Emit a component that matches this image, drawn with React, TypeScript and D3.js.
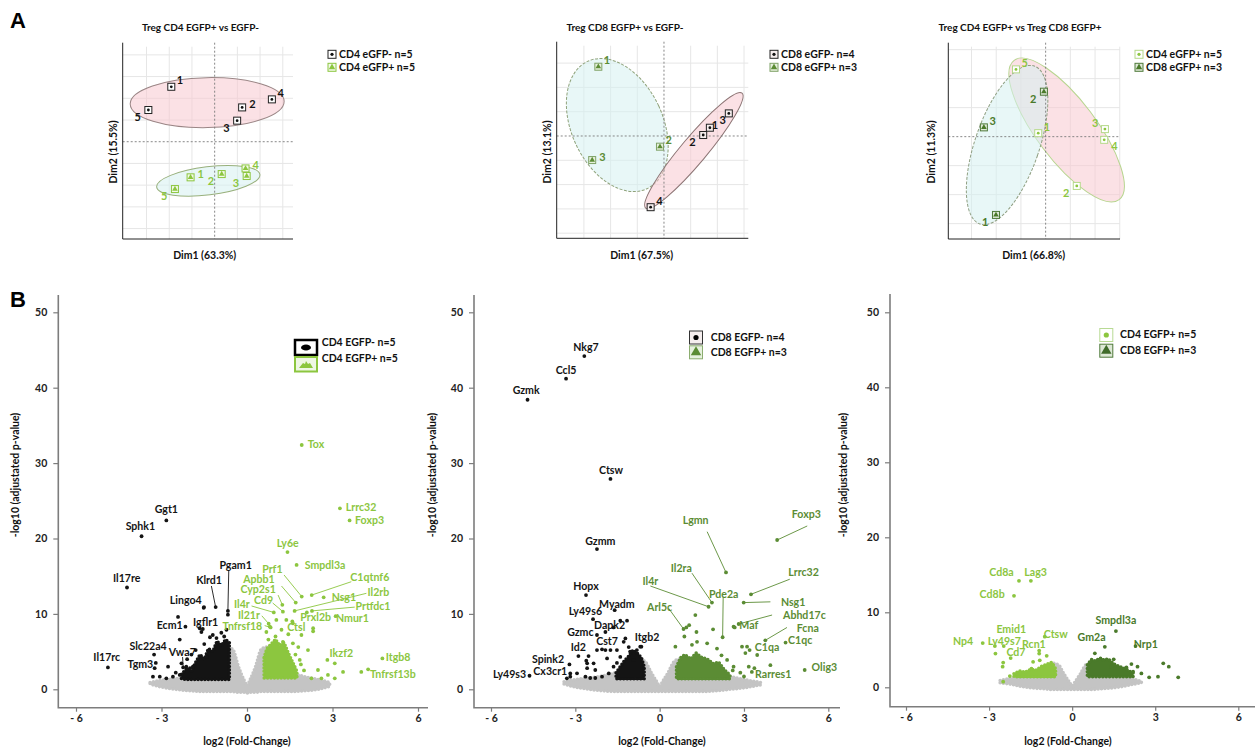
import React, { useEffect, useRef } from 'react';
import * as d3 from 'd3';

const FONT = "Lato, 'Open Sans', 'DejaVu Sans', sans-serif";
const C_BLACK = '#141414';
const C_LIGHT = '#8cc63f';
const C_MID = '#5b8c34';
const C_DARK = '#4a7a2a';
const C_GRAY = '#c4c4c4';
const AXIS = '#7d7d7d';

// ---------- A: PCA scores [sample, Dim1, Dim2] ----------
type Score = [string, number, number];
type Ell = [number, number, number, number, number]; // cx, cy, rx, ry, angle

const pcaCd4Neg: Score[] = [['1', -1.91, 2.53], ['2', 1.21, 1.58], ['3', 0.99, 0.97], ['4', 2.52, 1.95], ['5', -2.92, 1.46]];
const pcaCd4Pos: Score[] = [['1', -1.06, -1.64], ['2', 0.31, -1.49], ['3', 1.41, -1.58], ['4', 1.36, -1.23], ['5', -1.75, -2.18]];
const pcaCd8Neg: Score[] = [['1', 1.72, 0.34], ['2', 1.47, 0.04], ['3', 2.43, 0.93], ['4', -0.5, -2.93]];
const pcaCd8Pos: Score[] = [['1', -2.46, 2.85], ['2', -0.15, -0.44], ['3', -2.69, -0.99]];
const pcaCd4PosB: Score[] = [['1', -0.3, 0.12], ['2', 1.26, -1.7], ['3', 2.4, 0.26], ['4', 2.37, -0.11], ['5', -1.2, 2.32]];
const pcaCd8PosB: Score[] = [['1', -2.01, -2.7], ['2', -0.07, 1.55], ['3', -2.5, 0.32]];

// where each sample number sits next to its marker
const sideCd4Neg = ['ur', 'r', 'bl', 'ur', 'bl'];
const sideCd4Pos = ['r', 'bl', 'bl', 'r', 'bl'];
const sideCd8Neg = ['rt', 'bl', 'blt', 'ur'];
const sideCd8Pos = ['ur', 'ur', 'r'];
const sideCd4PosB = ['ur', 'bl', 'ul', 'br', 'ur'];
const sideCd8PosB = ['bl', 'bl', 'ur'];

const ellCd4Neg: Ell = [-0.33, 1.8, 3.39, 1.15, -1];
const ellCd4Pos: Ell = [-0.28, -1.8, 2.29, 0.65, -7];
const ellCd8Pos: Ell = [-1.75, 0.45, 1.71, 2.89, -25];
const ellCd8Neg: Ell = [1.12, -0.6, 2.81, 0.53, -50];
const ellCd4PosB: Ell = [0.85, 0.23, 3.53, 1.03, 53];
const ellCd8PosB: Ell = [-1.56, -0.29, 1.3, 2.88, 19];

// ---------- B: volcano plots [gene, log2FC, -log10 padj] ----------
type Gene = [string, number, number];
type XY = [number, number];

const b1Down: Gene[] = [['Ggt1', -2.83, 22.4], ['Sphk1', -3.7, 20.3], ['Il17re', -4.21, 13.5], ['Il17rc', -4.88, 2.9],
  ['Pgam1', -0.67, 10.4], ['Klrd1', -1.1, 10.9], ['Lingo4', -1.51, 10.9], ['Ecm1', -2.16, 8.3], ['Igflr1', -1.6, 7.6],
  ['Slc22a4', -3.26, 4.6], ['Tgm3', -3.2, 3.5], ['Vwa7', -2.24, 2.9]];
const b1Up: Gene[] = [['Tox', 1.92, 32.4], ['Lrrc32', 3.26, 24.0], ['Foxp3', 3.6, 22.4], ['Ly6e', 1.42, 18.2],
  ['Smpdl3a', 1.74, 16.5], ['Prf1', 1.92, 12.3], ['C1qtnf6', 2.27, 12.5], ['Nsg1', 2.69, 12.2], ['Il2rb', 1.67, 10.4],
  ['Apbb1', 1.71, 11.5], ['Cyp2s1', 1.24, 11.2], ['Cd9', 1.26, 10.3], ['Il4r', 0.94, 10.2], ['Il21r', 0.76, 8.7],
  ['Tnfrsf18', 0.83, 8.2], ['Prtfdc1', 2.28, 10.4], ['Prxl2b', 2.1, 10.2], ['Nmur1', 3.11, 9.7], ['Ctsl', 1.59, 9.0],
  ['Ikzf2', 2.82, 3.9], ['Itgb8', 4.75, 4.1], ['Tnfrsf13b', 4.25, 2.65]];
// label centre [x, y] and optional leader start [x, y]
const b1Labels: Record<string, number[]> = {
  Tox: [2.42, 32.5], Lrrc32: [4.0, 24.2], Foxp3: [4.3, 22.45], Ggt1: [-2.83, 23.9], Sphk1: [-3.74, 21.6],
  Il17re: [-4.22, 14.7], Il17rc: [-4.92, 4.25], Ly6e: [1.43, 19.3], Smpdl3a: [2.74, 16.5],
  Prf1: [0.89, 15.9, 1.3, 15.16], Apbb1: [0.42, 14.6, 1.21, 13.7], Cyp2s1: [0.39, 13.2, 1.09, 12.5],
  Cd9: [0.58, 11.85, 0.9, 11.45], Il4r: [-0.18, 11.3, 0.16, 11.05], Il21r: [0.07, 9.8, 0.52, 9.75],
  Tnfrsf18: [-0.16, 8.4, 0.62, 8.45], C1qtnf6: [4.31, 14.9, 3.66, 14.27], Nsg1: [3.4, 12.25],
  Il2rb: [4.61, 12.9, 4.19, 12.73], Prtfdc1: [4.42, 10.95, 3.78, 10.9], Prxl2b: [2.41, 9.5], Nmur1: [3.7, 9.4],
  Ctsl: [1.73, 8.2], Ikzf2: [3.31, 4.77], Itgb8: [5.3, 4.24], Tnfrsf13b: [5.12, 2.0],
  Pgam1: [-0.4, 16.5, -0.64, 15.7], Klrd1: [-1.33, 14.5, -1.25, 13.7], Lingo4: [-2.15, 11.75], Ecm1: [-2.71, 8.43],
  Igflr1: [-1.45, 8.89], Slc22a4: [-3.47, 5.74], Tgm3: [-3.74, 3.3], Vwa7: [-2.27, 4.85, -2.26, 4.28],
};
const b1DownDots: XY[] = [[-2.42, 9.6], [-2.36, 6.6], [-1.52, 10.8], [-1.66, 8.1], [-1.55, 8.0], [-1.07, 6.8], [-0.72, 7.9],
  [-0.67, 9.9], [-2.77, 3.0], [-2.3, 3.45], [-2.13, 3.0], [-1.9, 3.0], [-1.42, 4.3], [-3.3, 1.67], [-3.06, 1.67],
  [-2.83, 1.45], [-2.6, 1.67], [-2.36, 1.9], [-3.24, 2.8], [-2.0, 2.8], [-2.5, 2.2], [-1.2, 7.2], [-0.9, 7.5],
  [-1.8, 5.2], [-1.5, 6.0], [-1.3, 6.9], [-0.8, 7.0], [-2.1, 4.0], [-1.95, 4.6]];
const b1UpDots: XY[] = [[1.61, 6.1], [1.91, 7.2], [2.32, 8.1], [2.32, 7.7], [2.14, 5.2], [1.85, 3.9], [1.89, 3.3],
  [2.49, 2.56], [2.84, 1.9], [3.08, 3.45], [3.37, 2.3], [4.01, 2.3], [2.26, 1.45], [3.08, 1.45], [1.26, 6.3],
  [1.03, 9.2], [1.38, 9.2], [1.21, 7.9], [1.61, 8.75], [0.68, 7.6], [0.8, 8.3], [2.61, 1.45], [1.7, 4.6], [2.0, 2.5],
  [1.0, 7.0], [1.45, 7.3], [0.75, 6.6], [1.8, 5.6]];
const b1Cloud: number[][] = [
  [-3.4, -3.0, -2.5, -2.0, -1.5, -1.0, -0.7, -0.5, -0.3, -0.1, 0, 0.1, 0.3, 0.5, 0.7, 1.0, 1.5, 2.0, 2.5, 2.9],
  [0.9, 1.2, 1.4, 1.7, 2.3, 3.8, 5.6, 5.3, 3.0, 1.2, 0.5, 1.2, 3.0, 5.3, 5.6, 3.8, 2.3, 1.7, 1.3, 0.9],
  [0.7, 0.3, 0.0, -0.2, -0.3, -0.3, -0.3, -0.3, -0.4, -0.4, -0.5, -0.4, -0.4, -0.3, -0.3, -0.3, -0.3, -0.2, 0.0, 0.4],
];
const b1DownCore: number[][] = [
  [-2.3, -2.1, -1.95, -1.8, -1.65, -1.5, -1.35, -1.2, -1.05, -0.9, -0.75, -0.62],
  [2.0, 2.8, 2.4, 3.6, 4.6, 4.0, 5.4, 5.0, 6.4, 5.8, 6.6, 6.2],
  [1.4, 1.3, 1.3, 1.3, 1.3, 1.3, 1.3, 1.3, 1.3, 1.3, 1.3, 1.3]];
const b1UpCore: number[][] = [
  [0.6, 0.7, 0.85, 1.0, 1.15, 1.3, 1.45, 1.6, 1.75],
  [4.2, 5.4, 6.0, 6.6, 5.8, 6.2, 4.8, 3.6, 2.4],
  [1.5, 1.5, 1.5, 1.5, 1.5, 1.5, 1.5, 1.5, 1.5]];

const b2Down: Gene[] = [['Nkg7', -2.68, 44.2], ['Ccl5', -3.33, 41.2], ['Gzmk', -4.7, 38.4], ['Ctsw', -1.75, 27.9],
  ['Gzmm', -2.23, 18.6], ['Hopx', -2.62, 12.5], ['Myadm', -1.6, 10.5], ['Ly49s6', -2.37, 9.3], ['Dapk2', -1.93, 7.6],
  ['Gzmc', -2.23, 7.2], ['Cst7', -1.75, 5.2], ['Id2', -2.89, 4.4], ['Itgb2', -0.65, 5.65], ['Spink2', -3.21, 3.3],
  ['Cx3cr1', -3.18, 2.1], ['Ly49s3', -4.63, 1.8]];
const b2Up: Gene[] = [['Foxp3', 4.18, 19.8], ['Lgmn', 2.36, 15.5], ['Il2ra', 1.86, 11.5], ['Il4r', 1.74, 10.95],
  ['Pde2a', 2.24, 6.9], ['Lrrc32', 3.25, 12.6], ['Nsg1', 2.99, 11.5], ['Abhd17c', 2.81, 8.66], ['Maf', 2.67, 8.2],
  ['Fcna', 3.76, 6.5], ['C1qc', 4.48, 6.2], ['C1qa', 3.11, 5.65], ['Arl5c', 0.85, 8.0], ['Rarres1', 3.28, 2.3],
  ['Olig3', 5.16, 2.56]];
const b2Labels: Record<string, number[]> = {
  Nkg7: [-2.62, 45.3], Ccl5: [-3.33, 42.35], Gzmk: [-4.75, 39.7], Ctsw: [-1.73, 29.1], Gzmm: [-2.11, 19.6],
  Hopx: [-2.62, 13.6], Myadm: [-1.52, 11.3], Ly49s6: [-2.64, 10.3], Dapk2: [-1.78, 8.5], Gzmc: [-2.82, 7.56],
  Cst7: [-1.87, 6.4], Id2: [-2.89, 5.57], Itgb2: [-0.45, 6.9], Spink2: [-3.97, 3.95], Cx3cr1: [-3.89, 2.35],
  Ly49s3: [-5.34, 2.03],
  Foxp3: [5.22, 23.2, 5.25, 21.66], Lgmn: [1.28, 22.45, 1.69, 20.9], Il2ra: [0.77, 16.05, 1.15, 15.4],
  Il4r: [-0.33, 14.27, -0.33, 13.7], Pde2a: [2.28, 12.6, 2.26, 12.24], Lrrc32: [5.12, 15.5, 4.63, 14.6],
  Nsg1: [4.75, 11.5, 3.94, 11.6], Abhd17c: [5.15, 9.85, 4.0, 9.85], Maf: [3.17, 8.5], Fcna: [5.27, 8.1, 4.53, 8.2],
  C1qc: [5.0, 6.5], C1qa: [3.82, 5.57], Arl5c: [0.0, 10.9, 0.32, 10.74], Rarres1: [4.04, 2.0], Olig3: [5.86, 2.9],
};
const b2DownDots: XY[] = [[-2.53, 4.4], [-2.23, 5.2], [-2.05, 5.3], [-1.93, 5.2], [-1.52, 5.2], [-1.28, 6.3], [-1.22, 6.75],
  [-1.64, 8.2], [-1.16, 9.1], [-1.4, 9.1], [-2.61, 3.8], [-2.58, 2.8], [-2.29, 2.56], [-2.94, 2.12], [-2.64, 1.67],
  [-2.47, 1.5], [-2.29, 1.5], [-2.05, 1.67], [-1.81, 2.1], [-1.64, 3.0], [-1.52, 3.5], [-2.35, 3.45], [-2.58, 3.45],
  [-3.18, 1.67], [-3.3, 1.45], [-1.87, 4.1], [-0.93, 3.9], [-0.81, 5.2], [-0.69, 5.65], [-1.05, 5.0], [-1.4, 4.3], [-1.1, 5.6]];
const b2UpDots: XY[] = [[0.95, 8.2], [1.05, 8.5], [1.27, 9.85], [1.31, 7.6], [1.9, 7.95], [1.69, 6.1], [1.33, 6.3],
  [0.88, 7.0], [0.56, 5.65], [1.15, 5.9], [2.04, 5.4], [2.63, 8.3], [2.93, 5.65], [3.05, 4.8], [3.2, 5.2], [3.47, 4.55],
  [3.17, 3.0], [3.37, 2.8], [3.94, 3.2], [2.4, 3.9], [2.63, 3.0], [2.87, 2.2], [2.2, 4.5], [2.6, 2.5], [3.0, 1.7]];
const b2Cloud: number[][] = [
  [-3.4, -3.0, -2.5, -2.0, -1.5, -1.0, -0.7, -0.5, -0.3, -0.1, 0, 0.1, 0.3, 0.5, 0.7, 1.0, 1.5, 2.0, 2.5, 3.0, 3.6],
  [1.0, 1.3, 1.5, 1.8, 2.3, 3.2, 4.0, 3.6, 2.2, 1.0, 0.4, 1.0, 2.2, 3.6, 4.0, 3.4, 2.6, 2.1, 1.7, 1.3, 0.9],
  [0.7, 0.3, 0.0, -0.2, -0.3, -0.3, -0.3, -0.3, -0.3, -0.3, -0.3, -0.3, -0.3, -0.3, -0.3, -0.3, -0.3, -0.2, 0.0, 0.2, 0.6],
];
const b2DownCore: number[][] = [
  [-1.55, -1.4, -1.25, -1.1, -0.95, -0.8, -0.65, -0.55],
  [2.2, 3.0, 3.8, 4.4, 5.2, 4.8, 4.2, 3.0],
  [1.4, 1.4, 1.4, 1.4, 1.4, 1.4, 1.4, 1.4]];
const b2UpCore: number[][] = [
  [0.6, 0.75, 0.9, 1.1, 1.3, 1.5, 1.7, 1.9, 2.1, 2.3, 2.5],
  [3.0, 4.2, 4.6, 4.0, 4.8, 4.2, 4.0, 3.4, 3.6, 2.6, 1.9],
  [1.4, 1.4, 1.4, 1.4, 1.4, 1.4, 1.4, 1.4, 1.4, 1.4, 1.4]];

const b3Cd4: Gene[] = [['Cd8a', -1.92, 14.2], ['Lag3', -1.49, 14.2], ['Cd8b', -2.1, 12.2], ['Np4', -3.23, 5.9],
  ['Emid1', -2.47, 5.5], ['Ly49s7', -2.79, 5.5], ['Rcn1', -1.19, 4.9], ['Cd7', -2.22, 3.9], ['Ctsw', -0.99, 6.75]];
const b3Cd8: Gene[] = [['Gm2a', 1.18, 5.4], ['Smpdl3a', 1.58, 7.5], ['Nrp1', 2.29, 5.5]];
const b3Labels: Record<string, number[]> = {
  Cd8a: [-2.55, 15.4], Lag3: [-1.32, 15.4], Cd8b: [-2.89, 12.4], Np4: [-3.94, 6.2], Emid1: [-2.2, 7.8],
  Ly49s7: [-2.45, 6.15], Rcn1: [-1.38, 5.8], Cd7: [-2.03, 4.7], Ctsw: [-0.59, 7.1], Gm2a: [0.7, 6.67],
  Smpdl3a: [1.58, 8.97], Nrp1: [2.66, 5.73],
};
const b3Cd4Dots: XY[] = [[-2.51, 2.75], [-2.49, 3.3], [-2.77, 4.5], [-1.19, 4.5], [-0.92, 4.2], [-1.41, 3.4], [-1.17, 3.6],
  [-2.25, 1.5], [-1.89, 1.85], [-1.47, 2.5], [-0.69, 3.0], [-2.49, 0.75]];
const b3Cd8Dots: XY[] = [[0.82, 4.53], [1.5, 3.73], [2.14, 3.1], [2.36, 2.75], [3.29, 3.2], [3.49, 2.75], [3.83, 1.33],
  [3.1, 1.42], [2.78, 1.33], [2.5, 1.85], [1.96, 2.65], [2.2, 2.1], [1.12, 3.64], [1.42, 2.75]];
const b3Cloud: number[][] = [
  [-2.6, -2.2, -1.8, -1.4, -1.0, -0.7, -0.5, -0.3, -0.1, 0, 0.1, 0.3, 0.5, 0.7, 1.0, 1.4, 1.8, 2.2, 2.5],
  [0.9, 1.2, 1.4, 1.7, 2.3, 3.2, 3.0, 1.8, 0.7, 0.2, 0.7, 1.8, 3.0, 3.2, 2.4, 1.8, 1.5, 1.1, 0.8],
  [0.6, 0.4, 0.1, -0.1, -0.2, -0.3, -0.3, -0.3, -0.3, -0.3, -0.3, -0.3, -0.3, -0.3, -0.2, -0.1, 0.1, 0.4, 0.6],
];
const b3Cd4Core: number[][] = [
  [-2.1, -1.9, -1.7, -1.5, -1.3, -1.1, -0.9, -0.75, -0.6],
  [1.8, 2.2, 2.0, 2.4, 2.3, 2.8, 3.1, 3.3, 2.5],
  [1.4, 1.4, 1.4, 1.4, 1.4, 1.4, 1.4, 1.4, 1.4]];
const b3Cd8Core: number[][] = [
  [0.55, 0.7, 0.85, 1.0, 1.15, 1.3, 1.5, 1.7, 1.9, 2.2],
  [3.0, 3.7, 3.5, 3.9, 3.6, 3.8, 3.1, 2.8, 2.5, 1.9],
  [1.4, 1.4, 1.4, 1.4, 1.4, 1.4, 1.4, 1.4, 1.4, 1.4]];

type G = d3.Selection<SVGGElement, unknown, null, undefined>;

const txt = (g: G, x: number, y: number, s: string, size: number, fill = '#111', anchor = 'middle') =>
  g.append('text').attr('x', x).attr('y', y).attr('dy', '0.35em').attr('text-anchor', anchor)
    .attr('font-family', FONT).attr('font-weight', 700).attr('font-size', size).attr('fill', fill).text(s);

function marker(g: G, cx: number, cy: number, kind: string, box: string, boxFill: string, ink: string, s = 7) {
  g.append('rect').attr('x', cx - s / 2).attr('y', cy - s / 2).attr('width', s).attr('height', s)
    .attr('fill', boxFill).attr('stroke', box).attr('stroke-width', 1);
  if (kind === 'dot') g.append('circle').attr('cx', cx).attr('cy', cy).attr('r', s * 0.2).attr('fill', ink);
  else g.append('path').attr('d', d3.symbol(d3.symbolTriangle, s * s * 0.28)()).attr('transform', `translate(${cx},${cy})`).attr('fill', ink);
}

const SIDE: Record<string, [number, number, string]> = {
  ur: [2, -6.5, 'start'], r: [3.5, -3, 'start'], rt: [-1.5, -3, 'start'], bl: [-4, 7, 'end'], blt: [0.5, 7, 'end'],
  ul: [-3, -5.5, 'end'], br: [3.5, 6, 'start'],
};

interface PcaGroup { pts: Score[]; side: string[]; kind: string; box: string; boxFill: string; ink: string; num: string; name: string }
interface PcaCfg {
  title: string; dim1: string; dim2: string; xDom: number[]; yDom: number[];
  left: number; right: number; top: number; bottom: number; gridX: number[]; gridY: number[];
  ellipses: { e: Ell; fill: string; stroke: string; dash?: string }[];
  groups: PcaGroup[]; titleX: number; dimX: number; dim2X: number; legX: number; legY: number;
}

function drawPca(root: G, c: PcaCfg) {
  const x = d3.scaleLinear().domain(c.xDom).range([c.left, c.right]);
  const y = d3.scaleLinear().domain(c.yDom).range([c.bottom, c.top]);
  const g = root.append('g');
  c.gridX.forEach(v => g.append('line').attr('x1', x(v)).attr('x2', x(v)).attr('y1', c.top + 4).attr('y2', c.bottom)
    .attr('stroke', '#e6e6e6').attr('stroke-width', 1));
  c.gridY.forEach(v => g.append('line').attr('y1', y(v)).attr('y2', y(v)).attr('x1', c.left).attr('x2', c.right)
    .attr('stroke', '#e6e6e6').attr('stroke-width', 1));
  c.ellipses.forEach(({ e, fill, stroke, dash }) => {
    g.append('ellipse').attr('cx', 0).attr('cy', 0)
      .attr('rx', Math.abs(x(e[2]) - x(0))).attr('ry', Math.abs(y(e[3]) - y(0)))
      .attr('transform', `translate(${x(e[0])},${y(e[1])}) rotate(${e[4]})`)
      .attr('fill', fill).attr('fill-opacity', 0.55).attr('stroke', stroke).attr('stroke-width', 1)
      .attr('stroke-dasharray', dash || null);
  });
  g.append('line').attr('x1', x(0)).attr('x2', x(0)).attr('y1', c.top).attr('y2', c.bottom)
    .attr('stroke', '#7a7a7a').attr('stroke-dasharray', '2,2').attr('stroke-width', 0.9);
  g.append('line').attr('y1', y(0)).attr('y2', y(0)).attr('x1', c.left).attr('x2', c.right)
    .attr('stroke', '#7a7a7a').attr('stroke-dasharray', '2,2').attr('stroke-width', 0.9);
  g.append('path').attr('d', `M${c.left},${c.top}V${c.bottom}H${c.right}`).attr('fill', 'none').attr('stroke', '#222').attr('stroke-width', 1);

  c.groups.forEach(gr => {
    gr.pts.forEach(([id, d1, d2], i) => {
      const px = x(d1), py = y(d2);
      marker(g, px, py, gr.kind, gr.box, gr.boxFill, gr.ink);
      const [dx, dy, anchor] = SIDE[gr.side[i]];
      txt(g, px + (anchor === 'start' ? 3.5 + dx : -3.5 + dx), py + dy, id, 11, gr.num, anchor);
    });
  });
  txt(g, c.titleX, 27, c.title, 10);
  txt(g, c.dimX, 255, c.dim1, 10.5);
  txt(g, 0, 0, c.dim2, 10.5).attr('transform', `translate(${c.dim2X},152) rotate(-90)`);
  c.groups.forEach((gr, i) => {
    marker(g, c.legX, c.legY + i * 13, gr.kind, gr.box, gr.boxFill, gr.ink, 8);
    txt(g, c.legX + 7, c.legY + i * 13, gr.name, 10.5, '#111', 'start');
  });
}

interface VolcanoCfg {
  x6n: number; x6p: number; y0: number; y50: number; left: number; right: number; top: number; bottom: number;
  yLabX: number; xLabX: number; cloud: number[][];
  cores: { band: number[][]; color: string }[];
  dots: { pts: XY[]; color: string }[];
  genes: { list: Gene[]; color: string }[];
  labels: Record<string, number[]>;
}

function drawVolcano(root: G, c: VolcanoCfg) {
  const x = d3.scaleLinear().domain([-6, 6]).range([c.x6n, c.x6p]);
  const y = d3.scaleLinear().domain([0, 50]).range([c.y0, c.y50]);
  const g = root.append('g');
  const band = (b: number[][], curve: d3.CurveFactory) => d3.area<number>().x(i => x(b[0][i])).y1(i => y(b[1][i]))
    .y0(i => y(b[2][i])).curve(curve)(d3.range(b[0].length));
  const blob = (b: number[][], color: string, curve: d3.CurveFactory) => g.append('path').attr('d', band(b, curve))
    .attr('fill', color).attr('stroke', color).attr('stroke-width', 3.6).attr('stroke-dasharray', '0 3.4')
    .attr('stroke-linecap', 'round');
  blob(c.cloud, C_GRAY, d3.curveMonotoneX);
  c.cores.forEach(cl => blob(cl.band, cl.color, d3.curveLinear));
  c.dots.forEach(d => g.append('g').selectAll('circle').data(d.pts).join('circle')
    .attr('cx', p => x(p[0])).attr('cy', p => y(p[1])).attr('r', 1.9).attr('fill', d.color));
  c.genes.forEach(set => {
    set.list.forEach(([name, gx, gy]) => {
      const lab = c.labels[name];
      if (lab.length > 2) g.append('line').attr('x1', x(lab[2])).attr('y1', y(lab[3])).attr('x2', x(gx)).attr('y2', y(gy))
        .attr('stroke', set.color).attr('stroke-width', 0.9);
      g.append('circle').attr('cx', x(gx)).attr('cy', y(gy)).attr('r', 1.9).attr('fill', set.color);
      txt(g, x(lab[0]), y(lab[1]), name, 10.6, set.color);
    });
  });

  const xa = g.append('g').attr('transform', `translate(0,${c.bottom})`)
    .call(d3.axisBottom(x).tickValues([-6, -3, 0, 3, 6]).tickSize(4).tickPadding(3)
      .tickFormat(d => (+d < 0 ? `- ${-d}` : `${d}`)));
  const ya = g.append('g').attr('transform', `translate(${c.left},0)`)
    .call(d3.axisLeft(y).tickValues([0, 10, 20, 30, 40, 50]).tickSize(5).tickPadding(6));
  [xa, ya].forEach(a => {
    a.select('.domain').remove();
    a.selectAll('line').attr('stroke', AXIS).attr('stroke-width', 1.2);
    a.selectAll('text').attr('font-family', FONT).attr('font-weight', 700).attr('font-size', 10.5).attr('fill', '#222');
  });
  g.append('path').attr('d', `M${c.left},${c.top}V${c.bottom}H${c.right}`).attr('fill', 'none')
    .attr('stroke', AXIS).attr('stroke-width', 1.6);
  txt(g, c.xLabX, 741, 'log2 (Fold-Change)', 10.5);
  txt(g, 0, 0, '-log10 (adjustated p-value)', 10.5).attr('transform', `translate(${c.yLabX},475) rotate(-90)`);
}

const App = () => {
  const ref = useRef<SVGSVGElement>(null);

  useEffect(() => {
    const svg = d3.select(ref.current);
    svg.selectAll('*').remove();
    const root = svg.append('g') as unknown as G;

    root.append('text').attr('x', 10).attr('y', 28).attr('font-family', 'Liberation Sans, Arial, sans-serif')
      .attr('font-weight', 700).attr('font-size', 22).text('A');
    root.append('text').attr('x', 10).attr('y', 307).attr('font-family', 'Liberation Sans, Arial, sans-serif')
      .attr('font-weight', 700).attr('font-size', 22).text('B');

    const pink = '#f7c9cf';
    const cyan = '#d6f0f0';

    drawPca(root, {
      title: 'Treg CD4 EGFP+ vs EGFP-', dim1: 'Dim1 (63.3%)', dim2: 'Dim2 (15.5%)',
      xDom: [-4.05, 3.45], yDom: [-4.48, 4.56], left: 122.7, right: 293, top: 42.7, bottom: 239,
      gridX: [-3, -2, -1, 1, 2, 3], gridY: [-4, -3, -2, -1, 1, 2, 3, 4],
      ellipses: [{ e: ellCd4Neg, fill: pink, stroke: '#9a8585' }, { e: ellCd4Pos, fill: cyan, stroke: '#98b07c' }],
      groups: [
        { pts: pcaCd4Neg, side: sideCd4Neg, kind: 'dot', box: '#222', boxFill: '#fff', ink: '#111', num: C_BLACK, name: 'CD4 eGFP- n=5' },
        { pts: pcaCd4Pos, side: sideCd4Pos, kind: 'tri', box: C_LIGHT, boxFill: '#f2f9ea', ink: C_LIGHT, num: C_LIGHT, name: 'CD4 eGFP+ n=5' },
      ],
      titleX: 200.5, dimX: 204.7, dim2X: 113, legX: 332, legY: 54.3,
    });
    drawPca(root, {
      title: 'Treg CD8 EGFP+ vs EGFP-', dim1: 'Dim1 (67.5%)', dim2: 'Dim2 (13.1%)',
      xDom: [-4.02, 3.16], yDom: [-4.21, 3.88], left: 556.7, right: 748.3, top: 41.7, bottom: 238.3,
      gridX: [-3, -2, -1, 1, 2, 3], gridY: [-4, -3, -2, -1, 1, 2, 3],
      ellipses: [{ e: ellCd8Pos, fill: cyan, stroke: '#8fa27a', dash: '3,1.5' }, { e: ellCd8Neg, fill: pink, stroke: '#8c7474' }],
      groups: [
        { pts: pcaCd8Neg, side: sideCd8Neg, kind: 'dot', box: '#222', boxFill: '#f6eeee', ink: '#111', num: C_BLACK, name: 'CD8 eGFP- n=4' },
        { pts: pcaCd8Pos, side: sideCd8Pos, kind: 'tri', box: '#7fa267', boxFill: '#e6f0dc', ink: C_MID, num: C_MID, name: 'CD8 eGFP+ n=3' },
      ],
      titleX: 625, dimX: 641.7, dim2X: 547.3, legX: 774, legY: 54.3,
    });
    drawPca(root, {
      title: 'Treg CD4 EGFP+ vs Treg CD8 EGFP+', dim1: 'Dim1 (66.8%)', dim2: 'Dim2 (11.3%)',
      xDom: [-3.94, 3.01], yDom: [-3.53, 3.24], left: 948.3, right: 1120, top: 42.7, bottom: 239,
      gridX: [-3, -2, -1, 1, 2, 3], gridY: [-3, -2, -1, 1, 2, 3],
      ellipses: [{ e: ellCd4PosB, fill: pink, stroke: '#b7d58f' }, { e: ellCd8PosB, fill: cyan, stroke: '#8f9f82', dash: '3,1.5' }],
      groups: [
        { pts: pcaCd4PosB, side: sideCd4PosB, kind: 'dot', box: '#b5d98a', boxFill: '#fff', ink: C_LIGHT, num: C_LIGHT, name: 'CD4 eGFP+ n=5' },
        { pts: pcaCd8PosB, side: sideCd8PosB, kind: 'tri', box: '#4f7a3a', boxFill: '#dfe9d9', ink: C_DARK, num: C_DARK, name: 'CD8 eGFP+ n=3' },
      ],
      titleX: 1020, dimX: 1033.7, dim2X: 931.7, legX: 1139, legY: 54.3,
    });

    drawVolcano(root, {
      x6n: 76, x6p: 418, y0: 689.3, y50: 312.3, left: 58.3, right: 428, top: 295, bottom: 707.7,
      yLabX: 15, xLabX: 247, cloud: b1Cloud,
      cores: [{ band: b1DownCore, color: C_BLACK }, { band: b1UpCore, color: C_LIGHT }],
      dots: [{ pts: b1DownDots, color: C_BLACK }, { pts: b1UpDots, color: C_LIGHT }],
      genes: [{ list: b1Down, color: C_BLACK }, { list: b1Up, color: C_LIGHT }],
      labels: b1Labels,
    });
    drawVolcano(root, {
      x6n: 491, x6p: 828.3, y0: 689.3, y50: 312.3, left: 474, right: 840, top: 295, bottom: 707.7,
      yLabX: 432.7, xLabX: 662, cloud: b2Cloud,
      cores: [{ band: b2DownCore, color: C_BLACK }, { band: b2UpCore, color: C_MID }],
      dots: [{ pts: b2DownDots, color: C_BLACK }, { pts: b2UpDots, color: C_MID }],
      genes: [{ list: b2Down, color: C_BLACK }, { list: b2Up, color: C_MID }],
      labels: b2Labels,
    });
    drawVolcano(root, {
      x6n: 906, x6p: 1238.3, y0: 687.3, y50: 312.3, left: 890, right: 1255, top: 294, bottom: 706.7,
      yLabX: 843.3, xLabX: 1068, cloud: b3Cloud,
      cores: [{ band: b3Cd4Core, color: C_LIGHT }, { band: b3Cd8Core, color: C_DARK }],
      dots: [{ pts: b3Cd4Dots, color: C_LIGHT }, { pts: b3Cd8Dots, color: C_DARK }],
      genes: [{ list: b3Cd4, color: C_LIGHT }, { list: b3Cd8, color: C_DARK }],
      labels: b3Labels,
    });

    // volcano legends
    const lg = root.append('g') as unknown as G;
    lg.append('rect').attr('x', 295).attr('y', 340).attr('width', 22).attr('height', 15).attr('fill', '#fff').attr('stroke', '#000').attr('stroke-width', 2.5);
    lg.append('ellipse').attr('cx', 306).attr('cy', 347.5).attr('rx', 5).attr('ry', 3).attr('fill', '#000');
    lg.append('rect').attr('x', 295).attr('y', 357).attr('width', 22).attr('height', 14.5).attr('fill', '#eef7e4').attr('stroke', C_LIGHT).attr('stroke-width', 2);
    lg.append('path').attr('d', 'M299,368 L303,363 L305,364 L306,361 L308,364 L310,363 L313,368 Z').attr('fill', C_LIGHT);
    txt(lg, 321.7, 342, 'CD4 EGFP-  n=5', 10.5, '#111', 'start');
    txt(lg, 321.7, 358.5, 'CD4 EGFP+ n=5', 10.5, '#111', 'start');

    marker(lg, 696, 337.5, 'dot', '#333', '#f5eeee', '#000', 13);
    marker(lg, 696, 352.3, 'tri', '#8cad70', '#e6f1de', C_MID, 13);
    txt(lg, 710.7, 337, 'CD8 EGFP-  n=4', 10.5, '#111', 'start');
    txt(lg, 710.7, 352, 'CD8 EGFP+ n=3', 10.5, '#111', 'start');

    marker(lg, 1106.3, 335, 'dot', '#b8da94', '#fff', C_LIGHT, 13);
    marker(lg, 1106.3, 350.7, 'tri', '#4f7a3a', '#dde8d6', '#3f6b2a', 13);
    txt(lg, 1120, 334, 'CD4 EGFP+ n=5', 10.5, '#111', 'start');
    txt(lg, 1120, 350.7, 'CD8 EGFP+ n=3', 10.5, '#111', 'start');
  }, []);

  return (
    <svg ref={ref} width={1255} height={749}
      style={{ position: 'absolute', left: 0, top: 0, background: '#fff', display: 'block' }} />
  );
};

export default App;
